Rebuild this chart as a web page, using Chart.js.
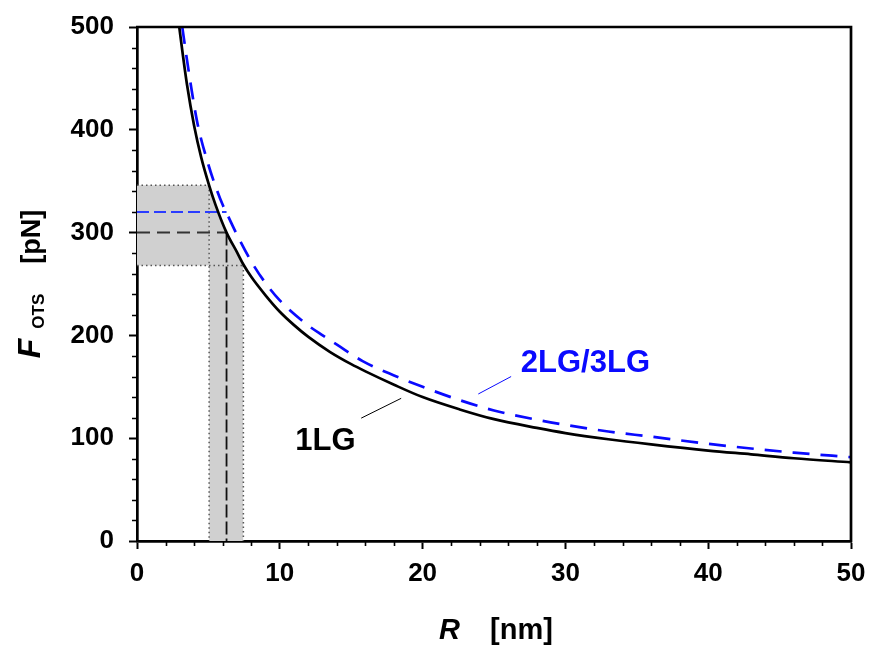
<!DOCTYPE html>
<html><head><meta charset="utf-8">
<script src="https://cdn.jsdelivr.net/npm/chart.js@4/dist/chart.umd.min.js"></script>
<style>html,body{margin:0;padding:0;background:#fff}#wrap{width:870px;height:650px}</style>
</head><body><div id="wrap"><canvas id="c" width="870" height="650"></canvas></div>
<script>
// ---- data ----
const R_1LG = [2.96, 3.2, 3.5, 4.0, 4.5, 5.05, 5.5, 6.27, 7.0, 7.45, 8.0, 9.0, 10, 11, 12, 13.5, 15, 16, 18, 20, 22.6, 25, 28, 30, 33, 36, 40, 43, 46, 50];
const F_1LG = [500, 474, 444, 404, 373, 346, 327, 300, 281, 269, 257, 239, 223, 210, 198.5, 184, 172, 165, 152, 140, 128, 118.5, 110, 105, 99, 94, 88, 84.3, 80.5, 76.5];
const R_2LG = [3.17, 3.5, 4.0, 4.3, 5.0, 5.5, 6.0, 6.38, 7.0, 8.0, 8.84, 10, 11.86, 13, 14, 15.8, 18, 20, 22.6, 25, 28, 30, 33, 36, 40, 43, 46, 50];
const F_2LG = [500, 468, 424, 402, 366, 345, 327, 316, 298, 272, 254, 234, 211, 200, 191, 175, 161, 150, 137, 127, 118, 113, 106.5, 101.5, 94.5, 90, 86, 81.5];
const F_RANGE = [268, 346];      // shaded force range
const R_RANGE = [5.05, 7.45];    // shaded radius range
const R_MARK = 6.27;             // read-off radius
const F_MARK = [300, 320];       // 1LG, 2LG/3LG forces at R_MARK
const X_TICKS = [0, 10, 20, 30, 40, 50];
const Y_TICKS = [0, 100, 200, 300, 400, 500];
const SERIES_NAMES = ['1LG', '2LG/3LG'];

const FONT = '"Liberation Sans", Arial, sans-serif';
const BLUE = '#0a0aff';
const pts = (xs, ys) => xs.map((v, i) => ({x: v, y: ys[i]}));

const bandV = R_1LG.map((r, i) => ({x: r, y: F_1LG[i]})).filter(p => p.x >= R_RANGE[0] && p.x <= R_RANGE[1]);

const base = {pointRadius: 0, fill: false, tension: 0};
const datasets = [
  {...base, label: SERIES_NAMES[0], data: pts(R_1LG, F_1LG), borderColor: '#000', borderWidth: 2.7, cubicInterpolationMode: 'monotone'},
  {...base, label: SERIES_NAMES[1], data: pts(R_2LG, F_2LG), borderColor: BLUE, borderWidth: 2.7, borderDash: [17, 11], cubicInterpolationMode: 'monotone'},
  // leader lines
  {...base, data: [{x: 15.7, y: 119.5}, {x: 18.5, y: 138.8}], borderColor: '#000', borderWidth: 1},
  {...base, data: [{x: 23.9, y: 143}, {x: 26.2, y: 160}], borderColor: BLUE, borderWidth: 1},
  // guide lines
  {...base, data: [{x: R_MARK, y: F_MARK[0]}, {x: R_MARK, y: 0}], borderColor: '#111', borderWidth: 1.8, borderDash: [13, 4]},
  {...base, data: [{x: 0, y: F_MARK[0]}, {x: R_MARK, y: F_MARK[0]}], borderColor: '#333', borderWidth: 2, borderDash: [13, 7]},
  {...base, data: [{x: 0, y: F_MARK[1]}, {x: R_MARK, y: F_MARK[1]}], borderColor: '#2a3cff', borderWidth: 2, borderDash: [12, 5]},
  // dotted band edges
  {...base, data: [{x: 0, y: F_RANGE[1]}, {x: R_RANGE[0], y: F_RANGE[1]}], borderColor: '#555', borderWidth: 1.5, borderDash: [1.5, 3]},
  {...base, data: [{x: R_RANGE[0], y: F_RANGE[1]}, {x: R_RANGE[0], y: 0}], borderColor: '#555', borderWidth: 1.5, borderDash: [1.5, 3]},
  {...base, data: [{x: 0, y: F_RANGE[0]}, {x: R_RANGE[1], y: F_RANGE[0]}], borderColor: '#555', borderWidth: 1.5, borderDash: [1.5, 3]},
  {...base, data: [{x: R_RANGE[1], y: F_RANGE[0]}, {x: R_RANGE[1], y: 0}], borderColor: '#555', borderWidth: 1.5, borderDash: [1.5, 3]},
  // grey shaded bands
  {...base, data: bandV, borderWidth: 0, borderColor: 'rgba(0,0,0,0)', backgroundColor: '#d0d0d0', fill: 'origin', cubicInterpolationMode: 'monotone'},
  {...base, data: [{x: 0, y: F_RANGE[1]}, {x: R_RANGE[0], y: F_RANGE[1]}], borderWidth: 0, borderColor: 'rgba(0,0,0,0)', backgroundColor: '#d0d0d0', fill: {value: F_RANGE[0]}}
];

const decor = {
  id: 'decor',
  afterDraw(chart) {
    const {ctx, chartArea: a, scales: {x, y}} = chart;
    ctx.save();
    // frame (top + right)
    ctx.strokeStyle = '#000';
    ctx.lineWidth = 2.7;
    ctx.beginPath();
    ctx.moveTo(a.left - 1, a.top); ctx.lineTo(a.right, a.top); ctx.lineTo(a.right, a.bottom + 1);
    ctx.stroke();
    // minor ticks
    ctx.lineWidth = 1.6;
    ctx.beginPath();
    for (let v = 20; v < 500; v += 20) {
      if (v % 100 === 0) continue;
      const p = Math.round(y.getPixelForValue(v)) + 0.5;
      ctx.moveTo(a.left - 5, p); ctx.lineTo(a.left, p);
    }
    for (let v = 2; v < 50; v += 2) {
      if (v % 10 === 0) continue;
      const p = Math.round(x.getPixelForValue(v)) + 0.5;
      ctx.moveTo(p, a.bottom); ctx.lineTo(p, a.bottom + 5);
    }
    ctx.stroke();
    // series labels
    ctx.textAlign = 'center';
    ctx.textBaseline = 'alphabetic';
    ctx.font = 'bold 31px ' + FONT;
    ctx.fillStyle = '#000';
    ctx.fillText(SERIES_NAMES[0], x.getPixelForValue(13.2), y.getPixelForValue(89));
    ctx.fillStyle = BLUE;
    ctx.fillText(SERIES_NAMES[1], x.getPixelForValue(31.4), y.getPixelForValue(164.4));
    // x-axis title: R   [nm]
    ctx.fillStyle = '#000';
    ctx.textAlign = 'left';
    const fR = 'italic bold 29px ' + FONT, fN = 'bold 29px ' + FONT;
    ctx.font = fR; const wR = ctx.measureText('R').width;
    ctx.font = fN; const wN = ctx.measureText('[nm]').width;
    const gapX = 30;
    let sx = (a.left + a.right) / 2 + 2 - (wR + gapX + wN) / 2;
    ctx.font = fR; ctx.fillText('R', sx, 639);
    ctx.font = fN; ctx.fillText('[nm]', sx + wR + gapX, 639);
    // y-axis title: F_OTS   [pN]
    ctx.translate(40, (a.top + a.bottom) / 2);
    ctx.rotate(-Math.PI / 2);
    const fF = 'italic bold 32px ' + FONT, fS = 'bold 17px ' + FONT, fP = 'bold 27px ' + FONT;
    ctx.font = fF; const wF = ctx.measureText('F').width;
    ctx.font = fS; const wS = ctx.measureText('OTS').width;
    ctx.font = fP; const wP = ctx.measureText('[pN]').width;
    const g1 = 10, g2 = 30;
    let s = -(wF + g1 + wS + g2 + wP) / 2;
    ctx.font = fF; ctx.fillText('F', s, 0);
    ctx.font = fS; ctx.fillText('OTS', s + wF + g1, 4);
    ctx.font = fP; ctx.fillText('[pN]', s + wF + g1 + wS + g2, 0);
    ctx.restore();
  }
};

new Chart(document.getElementById('c'), {
  type: 'line',
  data: {datasets},
  options: {
    responsive: false,
    animation: false,
    devicePixelRatio: 1,
    layout: {padding: {left: 0, right: 19, top: 27, bottom: 0}},
    plugins: {legend: {display: false}, tooltip: {enabled: false}},
    scales: {
      x: {
        type: 'linear', min: 0, max: 50,
        afterBuildTicks: s => { s.ticks = X_TICKS.map(v => ({value: v})); },
        afterFit: s => { s.height = 109; s.paddingLeft = 0; s.paddingRight = 0; },
        grid: {drawOnChartArea: false, drawTicks: true, tickLength: 8, tickWidth: 2, tickColor: '#000'},
        border: {display: true, color: '#000', width: 2.7},
        ticks: {color: '#000', padding: 9, font: {family: FONT, size: 26, weight: 'bold'}, maxRotation: 0}
      },
      y: {
        type: 'linear', min: 0, max: 500,
        afterBuildTicks: s => { s.ticks = Y_TICKS.map(v => ({value: v})); },
        afterFit: s => { s.width = 137; s.paddingTop = 0; s.paddingBottom = 0; },
        grid: {drawOnChartArea: false, drawTicks: true, tickLength: 8, tickWidth: 2, tickColor: '#000'},
        border: {display: true, color: '#000', width: 2.7},
        ticks: {color: '#000', padding: 15, font: {family: FONT, size: 26, weight: 'bold'}}
      }
    }
  },
  plugins: [decor]
});
</script>
</body></html>
